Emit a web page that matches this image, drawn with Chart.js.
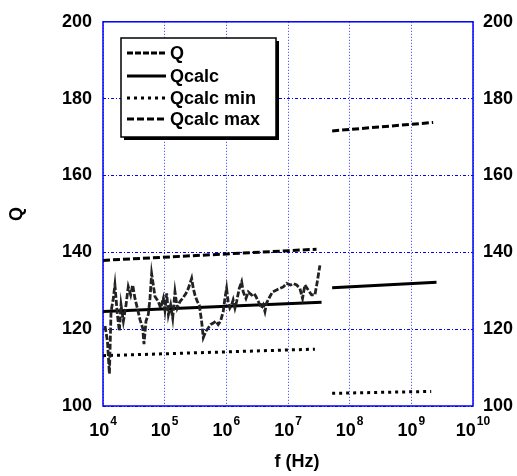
<!DOCTYPE html>
<html>
<head>
<meta charset="utf-8">
<script src="https://cdn.jsdelivr.net/npm/chart.js@4/dist/chart.umd.min.js"></script>
<style>
  body { margin: 0; background: #fff; }
</style>
</head>
<body>
<canvas id="myChart" width="517" height="476"></canvas>
<script>
const qFreq = [1.08e4, 1.18e4, 1.27e4, 1.35e4, 1.47e4, 1.56e4, 1.71e4, 1.84e4, 1.96e4, 2.14e4,
  2.36e4, 2.57e4, 2.81e4, 3.03e4, 3.30e4, 3.60e4, 3.98e4, 4.40e4, 4.62e4, 4.98e4,
  5.43e4, 5.78e4, 6.15e4, 6.54e4, 6.96e4, 7.88e4, 8.61e4, 9.51e4, 1.01e5, 1.08e5,
  1.15e5, 1.25e5, 1.35e5, 1.47e5, 1.60e5, 1.77e5, 1.95e5, 2.21e5, 2.42e5, 2.74e5,
  2.91e5, 3.10e5, 3.38e5, 3.64e5, 3.97e5, 4.23e5, 4.67e5, 5.09e5, 5.56e5, 6.14e5,
  6.78e5, 7.39e5, 8.07e5, 8.91e5, 9.48e5, 1.01e6, 1.07e6, 1.14e6, 1.22e6, 1.29e6,
  1.38e6, 1.47e6, 1.62e6, 1.77e6, 1.88e6, 2.08e6, 2.27e6, 2.57e6, 2.80e6, 3.02e6,
  3.30e6, 3.73e6, 3.97e6, 4.23e6, 4.50e6, 5.09e6, 5.62e6, 6.53e6, 7.39e6, 8.37e6,
  9.48e6, 1.10e7, 1.22e7, 1.38e7, 1.56e7, 1.72e7, 1.88e7, 2.13e7, 2.41e7, 2.73e7,
  2.98e7, 3.29e7];
const qValues = [120.8, 116.9, 108.4, 124.6, 128, 131.5, 123.8, 119.5, 126.3, 122.1,
  126.3, 131, 128.9, 131.5, 128, 125.5, 122.5, 120.3, 116.1, 122.1,
  123.8, 128, 134.4, 131.5, 128.5, 127.2, 125.5, 128, 125, 129.3,
  123.8, 126.3, 122.9, 129.7, 125.5, 127.2, 128, 129.3, 130.6, 133.2,
  130.6, 128.9, 127.2, 126.3, 122.1, 117.8, 119.5, 120.3, 121.2, 121.6,
  122.1, 121.2, 122.1, 124.6, 128, 130.6, 127.2, 125.5, 126.3, 127.6,
  125.5, 127.2, 130.6, 132.3, 129.7, 128, 129.7, 128.9, 129.3, 128.5,
  127.2, 125.5, 126.3, 124.6, 126.8, 128.5, 129.7, 130.2, 130.6, 131,
  131.9, 131.5, 131.9, 131.5, 130.6, 128, 131.5, 130.2, 128.9, 128.9,
  132.3, 136.6];

// calculated curves, two pieces each (null = gap)
const calcFreq = [1e4, 3.5e7, 4e7, 5.2e7, 2.56e9];
const calcValues = [124.6, 127.0, null, 130.8, 132.2];
const minFreq = [1e4, 2.73e7, 4e7, 5.2e7, 2.1e9];
const minValues = [113.1, 114.8, null, 103.3, 103.8];
const maxFreq = [1e4, 2.9e7, 4e7, 5.2e7, 2.26e9];
const maxValues = [137.9, 140.8, null, 171.6, 173.8];

const seriesNames = ['Q', 'Qcalc', 'Qcalc min', 'Qcalc max'];
const xTicks = [1e4, 1e5, 1e6, 1e7, 1e8, 1e9, 1e10];
const yTicks = [100, 120, 140, 160, 180, 200];

function pts(xs, ys) {
  let out = [];
  for (let i = 0; i < xs.length; i++) {
    out.push({ x: xs[i], y: ys[i] });
  }
  return out;
}

const boldFont = { family: 'Liberation Sans, Arial, sans-serif', size: 18, weight: 'bold' };

const framePlugin = {
  id: 'frame',
  beforeDatasetsDraw(chart) {
    const a = chart.chartArea;
    const ctx = chart.ctx;
    ctx.save();
    ctx.strokeStyle = '#0000ff';
    ctx.lineWidth = 1.5;
    ctx.strokeRect(a.left, a.top, a.right - a.left, a.bottom - a.top);
    ctx.restore();
  },
  afterDraw(chart) {
    const ctx = chart.ctx;
    const xs = chart.scales.x;
    ctx.save();
    ctx.fillStyle = '#000';

    // x tick labels as 10^n
    for (let i = 0; i < xTicks.length; i++) {
      const px = xs.getPixelForValue(xTicks[i]);
      const exp = String(Math.round(Math.log10(xTicks[i])));
      ctx.font = 'bold 18px Liberation Sans, Arial, sans-serif';
      const w1 = ctx.measureText('10').width;
      ctx.font = 'bold 12px Liberation Sans, Arial, sans-serif';
      const w2 = ctx.measureText(exp).width;
      const start = px - (w1 + w2 + 1) / 2;
      ctx.textAlign = 'left';
      ctx.textBaseline = 'alphabetic';
      ctx.font = 'bold 18px Liberation Sans, Arial, sans-serif';
      ctx.fillText('10', start, 436);
      ctx.font = 'bold 12px Liberation Sans, Arial, sans-serif';
      ctx.fillText(exp, start + w1 + 1, 425);
    }

    // x axis title
    ctx.font = 'bold 18px Liberation Sans, Arial, sans-serif';
    ctx.textAlign = 'center';
    ctx.textBaseline = 'middle';
    ctx.fillText('f (Hz)', 297, 462);

    // legend box with shadow
    const bx = 121, by = 38, bw = 155, bh = 99;
    ctx.fillStyle = '#000';
    ctx.fillRect(bx + 3, by + 3, bw, bh);
    ctx.fillStyle = '#fff';
    ctx.fillRect(bx, by, bw, bh);
    ctx.strokeStyle = '#000';
    ctx.lineWidth = 1.5;
    ctx.strokeRect(bx, by, bw, bh);

    const rowY = [53, 76, 98, 119];
    chart.data.datasets.forEach(function (ds, i) {
      ctx.beginPath();
      ctx.setLineDash(ds.borderDash || []);
      ctx.lineWidth = 3;
      ctx.strokeStyle = '#000';
      ctx.moveTo(127, rowY[i]);
      ctx.lineTo(166, rowY[i]);
      ctx.stroke();
      ctx.setLineDash([]);
      ctx.fillStyle = '#000';
      ctx.textAlign = 'left';
      ctx.textBaseline = 'middle';
      ctx.fillText(ds.label, 170, rowY[i] + 1);
    });
    ctx.restore();
  }
};

const ctx = document.getElementById('myChart');

new Chart(ctx, {
  type: 'line',
  data: {
    datasets: [
      {
        label: seriesNames[0],
        data: pts(qFreq, qValues),
        borderColor: '#222',
        borderWidth: 2.8,
        borderDash: [6, 2],
        pointRadius: 0,
        tension: 0
      },
      {
        label: seriesNames[1],
        data: pts(calcFreq, calcValues),
        borderColor: '#000',
        borderWidth: 3,
        pointRadius: 0,
        spanGaps: false
      },
      {
        label: seriesNames[2],
        data: pts(minFreq, minValues),
        borderColor: '#000',
        borderWidth: 3,
        borderDash: [3, 4],
        pointRadius: 0,
        spanGaps: false
      },
      {
        label: seriesNames[3],
        data: pts(maxFreq, maxValues),
        borderColor: '#000',
        borderWidth: 3,
        borderDash: [7, 3],
        pointRadius: 0,
        spanGaps: false
      }
    ]
  },
  options: {
    responsive: false,
    animation: false,
    layout: { padding: { top: 17, left: 0, right: 0, bottom: 0 } },
    plugins: {
      legend: { display: false },
      tooltip: { enabled: false }
    },
    scales: {
      x: {
        type: 'logarithmic',
        min: 1e4,
        max: 1e10,
        afterBuildTicks: function (scale) {
          scale.ticks = xTicks.map(v => ({ value: v }));
        },
        afterFit: function (scale) { scale.height = 70; },
        ticks: { callback: () => '', display: true },
        grid: { color: '#3333ff', lineWidth: 1, drawTicks: false },
        border: { display: false, dash: [1, 2] }
      },
      y: {
        position: 'left',
        min: 100,
        max: 200,
        afterBuildTicks: function (scale) {
          scale.ticks = yTicks.map(v => ({ value: v }));
        },
        afterFit: function (scale) { scale.width = 103; },
        ticks: { font: boldFont, color: '#000', padding: 11 },
        grid: { color: '#0000ff', lineWidth: 1, drawTicks: false },
        border: { display: false, dash: [3, 2, 1, 2] },
        title: { display: true, text: 'Q', font: boldFont, color: '#000', padding: { top: 6, bottom: 4 } }
      },
      y2: {
        position: 'right',
        min: 100,
        max: 200,
        afterBuildTicks: function (scale) {
          scale.ticks = yTicks.map(v => ({ value: v }));
        },
        afterFit: function (scale) { scale.width = 44; },
        ticks: { font: boldFont, color: '#000', padding: 10 },
        grid: { drawOnChartArea: false, drawTicks: false },
        border: { display: false }
      }
    }
  },
  plugins: [framePlugin]
});
</script>
</body>
</html>
